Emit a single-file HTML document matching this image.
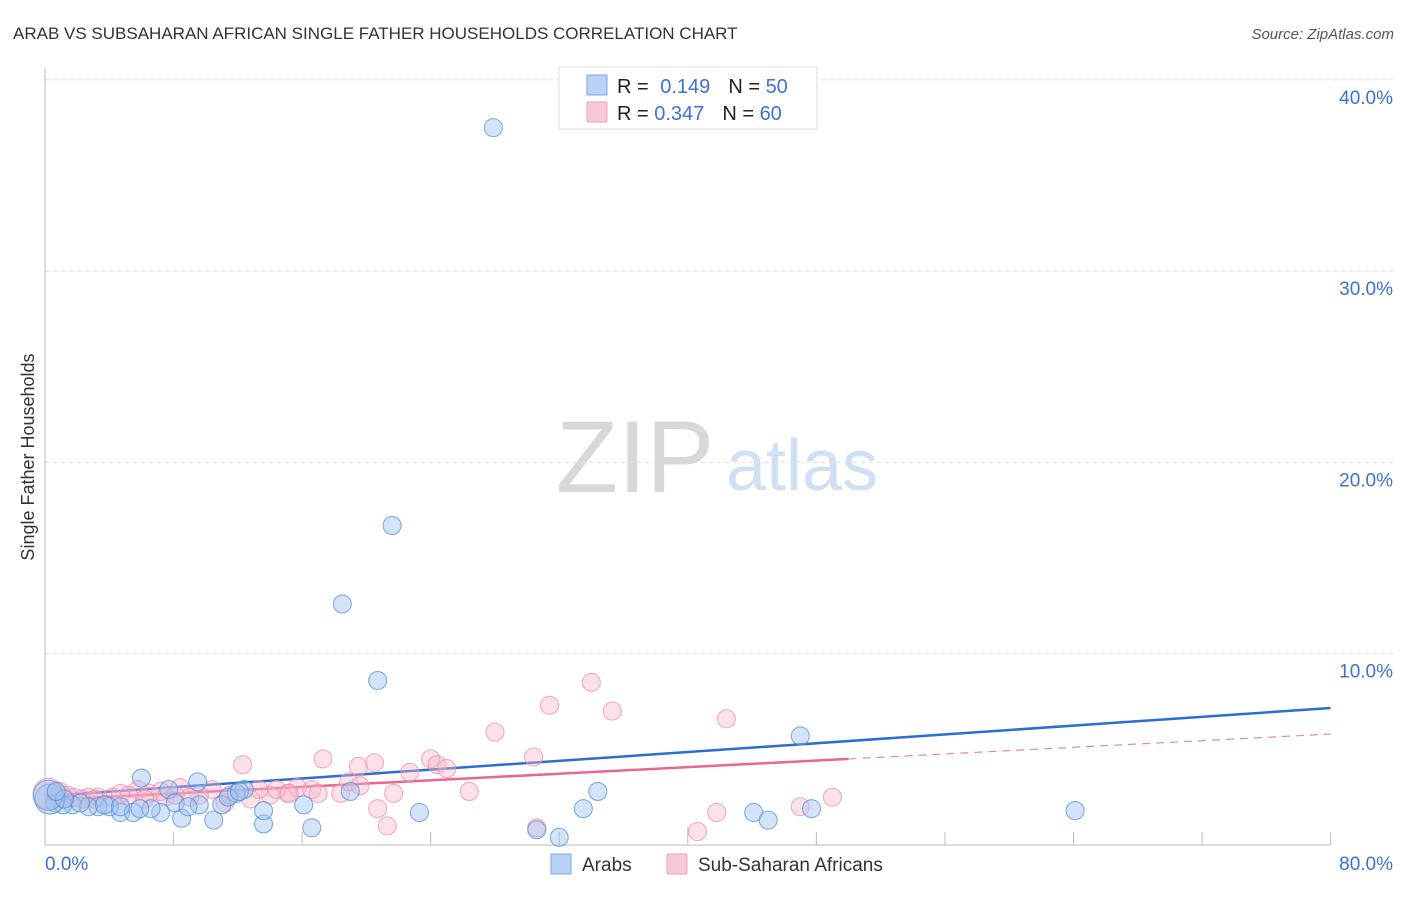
<!DOCTYPE html>
<html><head><meta charset="utf-8"><style>
body{margin:0;background:#fff;font-family:"Liberation Sans",sans-serif;}
svg text{font-family:"Liberation Sans",sans-serif;}
</style></head><body>
<svg id="chart" width="1406" height="892">
<text x="13" y="39" font-size="17" fill="#333">ARAB VS SUBSAHARAN AFRICAN SINGLE FATHER HOUSEHOLDS CORRELATION CHART</text>
<text x="1394" y="39" font-size="15" fill="#555" font-style="italic" text-anchor="end">Source: ZipAtlas.com</text>
<text x="34" y="457" font-size="18" fill="#333" text-anchor="middle" transform="rotate(-90 34 457)">Single Father Households</text>
<g>
<text x="635" y="492" font-size="102" fill="#d8d8d8" font-family="Liberation Serif" text-anchor="middle">ZIP</text>
<text x="802" y="490" font-size="72" fill="#cfe0f5" text-anchor="middle">atlas</text>
</g>
<g id="grid"></g><g id="axes"></g><g id="trends"></g><g id="pts"></g>
<g>
<rect x="559" y="67" width="258" height="62" fill="#fff" stroke="#ddd"/>
<rect x="587" y="75" width="20" height="20" fill="#b8d3f5" stroke="#7ba7e6"/>
<rect x="587" y="102" width="20" height="20" fill="#f9c8d6" stroke="#f0a3ba"/>
<text x="617" y="93" font-size="20" fill="#222">R = <tspan fill="#3b72d6" dx="6">0.149</tspan><tspan dx="18">N = </tspan><tspan fill="#3b72d6">50</tspan></text>
<text x="617" y="120" font-size="20" fill="#222">R = <tspan fill="#3b72d6">0.347</tspan><tspan dx="18">N = </tspan><tspan fill="#3b72d6">60</tspan></text>
</g>
<g>
<rect x="551" y="854" width="20" height="20" fill="#b8d3f5" stroke="#7ba7e6"/>
<text x="582" y="871" font-size="19" fill="#333">Arabs</text>
<rect x="667" y="854" width="20" height="20" fill="#f9c8d6" stroke="#f0a3ba"/>
<text x="698" y="871" font-size="19" fill="#333">Sub-Saharan Africans</text>
</g>
</svg>
<script>
const yTicks=[10,20,30,40];
const yTickLabels=["10.0%","20.0%","30.0%","40.0%"];
const xTickValues=[0,8,16,24,32,40,48,56,64,72,80];
const xEndLabels=["0.0%","80.0%"];
const arabX=[27.9,21.6,18.5,20.7,47.0,6.0,9.5,7.7,12.4,19.0,34.4,11.9,16.1,23.3,33.5,44.1,47.7,64.1,45.0,30.6,32.0,16.6,13.6,10.5,8.5,13.6,7.2,4.7,5.5,6.6,4.0,3.3,2.7,1.7,1.1,0.6,0.3,0.2,2.2,8.1,9.6,11.0,8.9,11.4,12.1,3.7,1.2,0.7,5.9,4.7];
const arabY=[37.5,16.7,12.6,8.6,5.7,3.5,3.3,2.9,2.9,2.8,2.8,2.7,2.1,1.7,1.9,1.7,1.9,1.8,1.3,0.8,0.4,0.9,1.1,1.3,1.4,1.8,1.7,1.7,1.7,1.9,2.0,2.0,2.0,2.1,2.1,2.2,2.4,2.6,2.2,2.2,2.1,2.1,2.0,2.5,2.8,2.1,2.4,2.8,1.9,2.0];
const ssaX=[34.0,31.4,35.3,42.4,28.0,17.3,12.3,20.5,19.5,24.0,24.4,25.0,22.7,30.4,26.4,21.7,20.7,21.3,30.6,41.8,40.6,47.0,49.0,18.9,18.4,15.7,16.6,15.1,14.0,13.3,14.4,12.8,11.2,10.4,9.6,8.4,7.5,6.5,5.8,5.2,4.2,3.3,2.7,1.8,1.2,0.6,0.2,9.0,7.2,4.7,0.9,1.4,2.3,3.1,6.2,8.1,11.5,15.2,17.0,19.6];
const ssaY=[8.5,7.3,7.0,6.6,5.9,4.5,4.2,4.3,4.1,4.5,4.2,4.0,3.8,4.6,2.8,2.7,1.9,1.0,0.9,1.7,0.7,2.0,2.5,3.3,2.7,3.0,2.9,2.7,2.6,2.9,2.9,2.4,2.2,2.9,2.6,3.0,2.5,2.7,2.9,2.6,2.5,2.5,2.5,2.5,2.5,2.5,2.7,2.5,2.8,2.7,2.8,2.6,2.4,2.4,2.4,2.6,2.6,2.7,2.7,3.1];
const arabTrendX=[0,80];
const arabTrendY=[2.56,7.16];
const ssaTrendX=[0,50,80];
const ssaTrendY=[2.35,4.5,5.8];

const NS="http://www.w3.org/2000/svg";
const sx=v=>45+v*16.07;
const sy=v=>845-v*19.13;
function mk(tag,attrs,parent){const e=document.createElementNS(NS,tag);for(const k in attrs)e.setAttribute(k,attrs[k]);parent.appendChild(e);return e;}
const grid=document.getElementById('grid'),axes=document.getElementById('axes'),trends=document.getElementById('trends'),pts=document.getElementById('pts');
yTicks.forEach((t,i)=>{
 const l=mk('line',{x1:45,x2:1393,y1:sy(t),y2:sy(t),stroke:'#ddd','stroke-dasharray':'4,4'},grid);
 
 
 const tx=mk('text',{x:1393,y:sy(t)+24,'font-size':19,fill:'#3b72d6','text-anchor':'end'},grid);
 tx.textContent=yTickLabels[i];
 
 
});
const ya=mk('line',{x1:45,x2:45,y1:68,y2:845,stroke:'#bbb'},axes);


const xa=mk('line',{x1:45,x2:1330,y1:845,y2:845,stroke:'#bbb'},axes);


xTickValues.forEach(v=>{
 const t=mk('line',{x1:sx(v),x2:sx(v),y1:(v===40?827:832),y2:845,stroke:'#bbb'},axes);
 
 
});
const xl0=mk('text',{x:45,y:870,'font-size':19,fill:'#3b72d6'},axes);xl0.textContent=xEndLabels[0];


const xl1=mk('text',{x:1393,y:870,'font-size':19,fill:'#3b72d6','text-anchor':'end'},axes);xl1.textContent=xEndLabels[1];



function dots(xs,ys,fill,stroke,name){
 xs.forEach((x,i)=>{
  const big=(x<0.5);
  const c=mk('circle',{cx:sx(x),cy:sy(ys[i]),r:big?15:9,fill:fill,stroke:stroke,'stroke-width':1.1},pts);
  
  
 });
}
dots(ssaX,ssaY,'rgba(248,180,200,0.4)','rgba(236,140,170,0.7)','subsaharan-point');
dots(arabX,arabY,'rgba(160,196,240,0.45)','rgba(80,140,220,0.7)','arab-point');

const bl=mk('line',{x1:sx(arabTrendX[0]),y1:sy(arabTrendY[0]),x2:sx(arabTrendX[1]),y2:sy(arabTrendY[1]),stroke:'#2a6dd6','stroke-width':2.5},trends);


const pl=mk('line',{x1:sx(ssaTrendX[0]),y1:sy(ssaTrendY[0]),x2:sx(ssaTrendX[1]),y2:sy(ssaTrendY[1]),stroke:'#e86690','stroke-width':2.5},trends);


const pd=mk('line',{x1:sx(ssaTrendX[1]),y1:sy(ssaTrendY[1]),x2:sx(ssaTrendX[2]),y2:sy(ssaTrendY[2]),stroke:'#e886a5','stroke-width':1.2,'stroke-dasharray':'8,6'},trends);


</script>
</body></html>
